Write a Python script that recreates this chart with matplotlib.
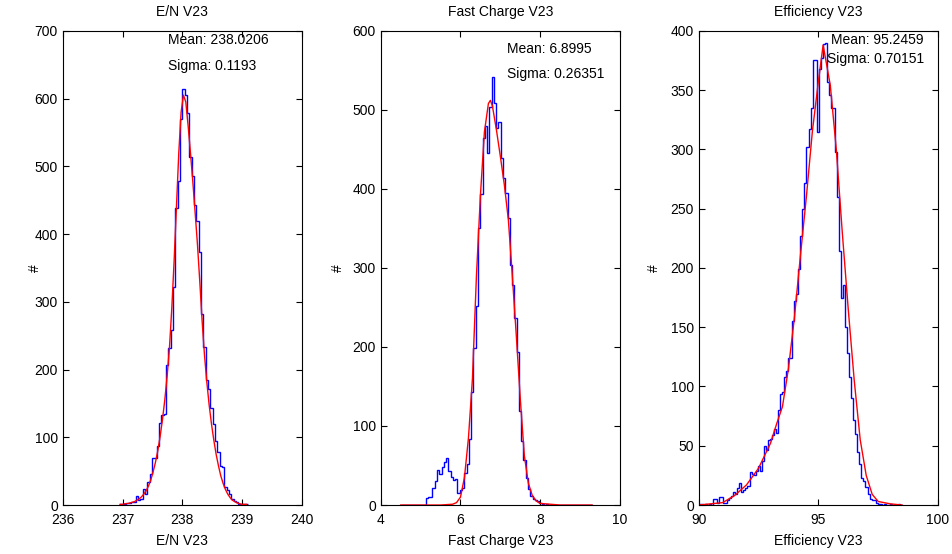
import numpy as np
import matplotlib.pyplot as plt

plt.rcParams['font.family'] = ['Liberation Sans', 'DejaVu Sans']
plt.rcParams['font.size'] = 10

# ---- panel 1: E/N V23 ----
en_start = 236.945  # left edge of first bin
en_width = 0.039
en_counts = [1, 1, 2, 3, 3, 5, 4, 13, 8, 9,
             23, 17, 34, 46, 70, 70, 87, 121, 133, 135,
             206, 232, 258, 322, 438, 479, 570, 614, 605, 579,
             514, 486, 443, 419, 373, 282, 233, 184, 172, 143,
             120, 95, 79, 57, 56, 27, 22, 16, 9, 6,
             4, 2, 2, 1, 1]
en_fit = [1, 1, 2, 2, 3, 4, 5, 7, 9, 12,
          16, 21, 28, 37, 49, 63, 80, 101, 126, 155,
          190, 232, 290, 360, 440, 520, 580, 605, 595, 560,
          520, 478, 432, 385, 330, 272, 222, 182, 148, 120,
          96, 75, 58, 43, 32, 23, 16, 11, 7, 5,
          3, 2, 1, 1, 1]

# ---- panel 2: Fast Charge V23 ----
fc_start = 4.5
fc_width = 0.057
fc_counts = [0] * 11 + [
    9, 10, 10, 22, 30, 44, 39, 48, 55, 59,
    43, 36, 32, 33, 15, 19, 21, 41, 52, 83,
    143, 199, 252, 350, 393, 464, 479, 446, 503, 541,
    509, 477, 484, 439, 414, 395, 363, 304, 278, 237,
    194, 119, 81, 57, 34, 20, 12, 8, 6, 5,
    2, 1, 0, 1, 0] + [0] * 18
fc_fit_x = [4.5, 5.0, 5.5, 5.8, 5.9, 6.0, 6.1, 6.2, 6.3, 6.4, 6.5, 6.6, 6.7, 6.75,
            6.8, 6.9, 7.0, 7.1, 7.2, 7.3, 7.4, 7.5, 7.6, 7.7, 7.8, 7.9, 8.0, 8.5,
            9.0, 9.3]
fc_fit_y = [0, 0, 0, 1, 3, 10, 35, 85, 160, 290, 392, 472, 508, 512,
            505, 475, 441, 405, 361, 290, 214, 134, 63, 28, 12, 5, 2, 0,
            0, 0]

# ---- panel 3: Efficiency V23 ----
ef_start = 90.0
ef_width = 0.085
ef_counts = [1, 1, 0, 1, 0, 1, 0, 5, 5, 2,
             7, 7, 2, 2, 4, 6, 8, 11, 9, 14,
             19, 11, 13, 14, 16, 28, 26, 25, 29, 33,
             29, 37, 50, 46, 55, 56, 59, 64, 61, 80,
             94, 95, 108, 113, 124, 124, 155, 172, 178, 199,
             227, 250, 272, 302, 317, 335, 375, 375, 315, 368,
             377, 389, 390, 357, 346, 335, 335, 298, 260, 214,
             175, 186, 150, 128, 108, 90, 72, 60, 45, 35,
             23, 20, 15, 9, 5, 4, 4, 2, 1, 1,
             0, 1, 0, 0, 1, 0, 0, 0, 1, 0]
ef_fit_x = [90.0, 90.5, 91.0, 91.5, 92.0, 92.5, 93.0, 93.25, 93.5, 93.75, 94.0,
            94.25, 94.5, 94.75, 95.0, 95.2, 95.5, 95.75, 96.0, 96.25, 96.5,
            96.75, 97.0, 97.25, 97.5, 98.0, 98.5]
ef_fit_y = [0, 1, 2, 8, 17, 31, 52, 68, 83, 115, 158,
            210, 260, 315, 357, 388, 354, 300, 230, 165, 105,
            55, 25, 9, 3, 1, 0]

titles = ['E/N V23', 'Fast Charge V23', 'Efficiency V23']
means = ['Mean: 238.0206', 'Mean: 6.8995', 'Mean: 95.2459']
sigmas = ['Sigma: 0.1193', 'Sigma: 0.26351', 'Sigma: 0.70151']

fig = plt.figure(figsize=(9.52, 5.54), dpi=100)
lefts = [0.0659, 0.3999, 0.7339]
axes = [fig.add_axes([l, 0.0884, 0.2514, 0.856]) for l in lefts]

panels = [
    (en_start, en_width, en_counts, None, en_fit, (236, 240), (0, 700), 1, 100),
    (fc_start, fc_width, fc_counts, fc_fit_x, fc_fit_y, (4, 10), (0, 600), 2, 100),
    (ef_start, ef_width, ef_counts, ef_fit_x, ef_fit_y, (90, 100), (0, 400), 5, 50),
]
text_pos = [((0.44, 0.981), (0.44, 0.926)),
            ((0.528, 0.962), (0.528, 0.909)),
            ((0.552, 0.98), (0.535, 0.94))]
ylabel_x = [-0.087, -0.149, -0.157]

for i, ax in enumerate(axes):
    start, width, counts, fx, fy, xl, yl, xstep, ystep = panels[i]
    edges = start + width * np.arange(len(counts) + 1)
    ax.stairs(counts, edges, color='blue', lw=1, baseline=None)
    if fx is None:
        fx = (edges[:-1] + edges[1:]) / 2
    ax.plot(fx, fy, color='red', lw=1)
    ax.set_xlim(*xl)
    ax.set_ylim(*yl)
    ax.set_xticks(np.arange(xl[0], xl[1] + 0.01, xstep))
    ax.set_yticks(np.arange(yl[0], yl[1] + 1, ystep))
    ax.tick_params(direction='in', top=True, right=True, length=4, labelsize=10)
    ax.tick_params(axis='x', pad=6)
    ax.set_title(titles[i], fontsize=10, pad=11)
    ax.set_xlabel(titles[i], fontsize=10, labelpad=5)
    ax.set_ylabel('#', fontsize=10)
    ax.yaxis.set_label_coords(ylabel_x[i], 0.5)
    (mx, my), (sx, sy) = text_pos[i]
    ax.text(mx, my, means[i], transform=ax.transAxes, fontsize=10, va='center')
    ax.text(sx, sy, sigmas[i], transform=ax.transAxes, fontsize=10, va='center')

fig.savefig('out.png', dpi=100)
